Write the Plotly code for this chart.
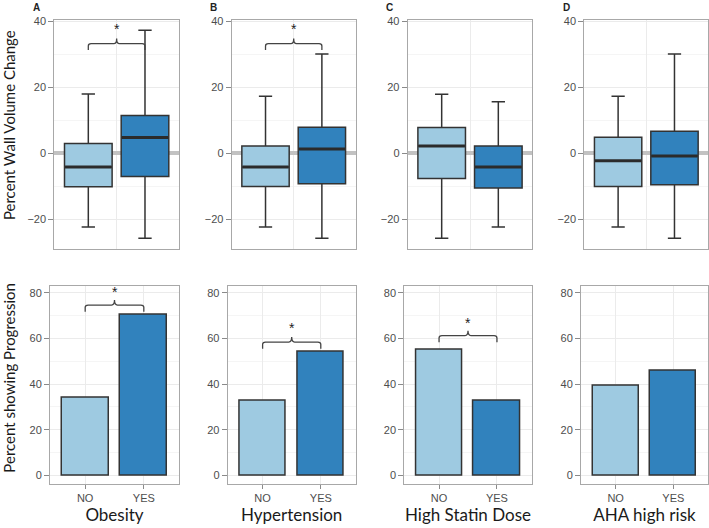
import plotly.graph_objects as go

# ---------------- data ----------------
groups = ["NO", "YES"]
factors = ["Obesity", "Hypertension", "High Statin Dose", "AHA high risk"]
panel_letters = ["A", "B", "C", "D"]

# box statistics (percent wall volume change): [NO, YES] per factor
box_upper = [[18.0, 37.3], [17.3, 30.1], [17.9, 15.6], [17.3, 30.1]]
box_q3 = [[3.0, 11.5], [2.2, 7.9], [7.8, 2.2], [4.9, 6.7]]
box_median = [[-4.1, 4.8], [-4.1, 1.3], [2.2, -4.1], [-2.2, -0.8]]
box_q1 = [[-10.1, -7.0], [-10.0, -9.2], [-7.6, -10.5], [-10.0, -9.5]]
box_lower = [[-22.3, -25.7], [-22.3, -25.7], [-25.7, -22.3], [-22.3, -25.7]]

# percent showing progression: [NO, YES] per factor
progression = [[34.0, 70.3], [32.7, 53.9], [54.8, 32.7], [39.4, 45.6]]

# significance brackets: (bar level, leg end, tip) or None
top_brackets = [(33.2, 31.3, 34.8), (33.2, 31.3, 34.8), None, None]
top_star_y = [37.5, 37.5, None, None]
bottom_brackets = [(74.6, 71.7, 76.8), (58.4, 55.5, 60.6), (61.2, 58.3, 63.3), None]
bottom_star_y = [80.4, 64.6, 66.7, None]

y_ticks_top = [-20, 0, 20, 40]
y_ticks_bottom = [0, 20, 40, 60, 80]

# ---------------- style ----------------
W, H = 709, 528
colors = ["#9ECAE1", "#3182BD"]
outline = "#333333"
tick_font = dict(family="Liberation Sans, Arial, sans-serif", size=11, color="#4D4D4D")
title_font = dict(family="Lato, Open Sans, sans-serif", size=17, color="#1a1a1a")
ytitle_font = dict(family="Lato, Open Sans, sans-serif", size=15, color="#1a1a1a")
grid_major = "#EBEBEB"
grid_minor = "#F5F5F5"
border = "#A8A8A8"

top_px = [(54.3, 179.0), (231.7, 355.7), (407.7, 532.3), (584.3, 708.3)]
bot_px = [(50.0, 179.0), (227.7, 355.7), (404.3, 531.7), (581.0, 708.0)]
top_ypx = (15.7, 246.7)
bot_ypx = (284.0, 483.3)

def xd(a, b):
    return [a / W, b / W]

def yd(top, bottom):
    return [1 - bottom / H, 1 - top / H]

fig = go.Figure()
layout = dict(width=W, height=H, margin=dict(l=0, r=0, t=0, b=0),
              paper_bgcolor="white", plot_bgcolor="white", showlegend=False,
              hovermode=False)
shapes = []
annotations = []

box_w = 0.84
bar_w = 0.8

def bracket(level, leg, tip, xr, yr):
    x1, x2, xm = 1.0, 2.0, 1.5
    dx = 0.05
    bend = level - (level - leg) * 0.35
    path = (f"M {x1},{leg} L {x1},{bend} "
            f"Q {x1},{level} {x1 + dx},{level} L {xm - dx},{level} "
            f"Q {xm},{level} {xm},{tip} Q {xm},{level} {xm + dx},{level} "
            f"L {x2 - dx},{level} Q {x2},{level} {x2},{bend} L {x2},{leg}")
    shapes.append(dict(type="path", path=path, xref=xr, yref=yr,
                       line=dict(color="#444", width=1.3)))

star_font = dict(family="Liberation Sans", size=14, color="#222")

for i in range(4):
    # ---- top panel (boxplots) ----
    n = i + 1
    xa, ya = f"x{n}", f"y{n}"
    for g in range(2):
        xpos = g + 1
        fig.add_trace(go.Box(
            x=[xpos], q1=[box_q1[i][g]], median=[box_median[i][g]], q3=[box_q3[i][g]],
            lowerfence=[box_lower[i][g]], upperfence=[box_upper[i][g]],
            width=box_w, whiskerwidth=0.28, fillcolor=colors[g], boxpoints=False,
            line=dict(color=outline, width=1.5), xaxis=xa, yaxis=ya))
        fig.add_trace(go.Scatter(
            x=[xpos - box_w / 2 + 0.01, xpos + box_w / 2 - 0.01],
            y=[box_median[i][g]] * 2, mode="lines",
            line=dict(color="#2B2B2B", width=3), xaxis=xa, yaxis=ya))
    layout[f"xaxis{n}" if n > 1 else "xaxis"] = dict(
        domain=xd(*top_px[i]), range=[0.4, 2.6], anchor=ya,
        tickvals=[1.5], showticklabels=False, ticks="",
        showgrid=True, gridcolor=grid_major, gridwidth=1, zeroline=False,
        showline=True, mirror=True, linecolor=border, linewidth=1)
    layout[f"yaxis{n}" if n > 1 else "yaxis"] = dict(
        domain=yd(*top_ypx), range=[-28.9, 40.5], anchor=xa,
        tickvals=y_ticks_top, ticks="outside", ticklen=5, tickcolor="#8a8a8a",
        tickfont=tick_font, showgrid=True, gridcolor=grid_major,
        minor=dict(dtick=10, tick0=0, showgrid=True, gridcolor=grid_minor, ticks=""),
        zeroline=True, zerolinecolor="#C2C2C2", zerolinewidth=4,
        showline=True, mirror=True, linecolor=border, linewidth=1)

    # ---- bottom panel (bars) ----
    m = i + 5
    xb, yb = f"x{m}", f"y{m}"
    fig.add_trace(go.Bar(
        x=[1, 2], y=progression[i], width=bar_w, marker=dict(color=colors,
        line=dict(color=outline, width=1.5)), xaxis=xb, yaxis=yb))
    layout[f"xaxis{m}"] = dict(
        domain=xd(*bot_px[i]), range=[0.4, 2.6], anchor=yb,
        tickvals=[1, 2], ticktext=groups, ticks="outside", ticklen=4, tickcolor="#8a8a8a",
        tickfont=tick_font, showgrid=True, gridcolor=grid_major, zeroline=False,
        showline=True, mirror=True, linecolor=border, linewidth=1,
        title=dict(text=factors[i], font=title_font, standoff=6))
    layout[f"yaxis{m}"] = dict(
        domain=yd(*bot_ypx), range=[-3.6, 83], anchor=xb,
        tickvals=y_ticks_bottom, ticks="outside", ticklen=5, tickcolor="#8a8a8a",
        tickfont=tick_font, showgrid=True, gridcolor=grid_major,
        minor=dict(dtick=10, tick0=0, showgrid=True, gridcolor=grid_minor, ticks=""),
        zeroline=False, showline=True, mirror=True, linecolor=border, linewidth=1)

    # ---- panel letters ----
    annotations.append(dict(text=f"<b>{panel_letters[i]}</b>", xref="paper", yref="paper",
                            x=(top_px[i][0] - 18) / W, y=1 - 11 / H, showarrow=False,
                            xanchor="center", yanchor="bottom",
                            font=dict(family="Liberation Sans, Arial", size=10, color="#222")))

    # ---- brackets ----
    if top_brackets[i] is not None:
        bracket(*top_brackets[i], xa, ya)
        annotations.append(dict(text="*", x=1.5, y=top_star_y[i], xref=xa, yref=ya,
                                showarrow=False, font=star_font))
    if bottom_brackets[i] is not None:
        bracket(*bottom_brackets[i], xb, yb)
        annotations.append(dict(text="*", x=1.5, y=bottom_star_y[i], xref=xb, yref=yb,
                                showarrow=False, font=star_font))

# ---- y-axis titles ----
annotations.append(dict(text="Percent Wall Volume Change", xref="paper", yref="paper",
                        x=9 / W, y=1 - 122 / H, textangle=-90, showarrow=False,
                        xanchor="center", yanchor="middle", font=ytitle_font))
annotations.append(dict(text="Percent showing Progression", xref="paper", yref="paper",
                        x=9 / W, y=1 - 376.5 / H, textangle=-90, showarrow=False,
                        xanchor="center", yanchor="middle", font=ytitle_font))

layout["shapes"] = shapes
layout["annotations"] = annotations
layout["bargap"] = 0
fig.update_layout(**layout)
fig.write_html("out.html", config={"displayModeBar": False},
               post_script="document.body.style.margin='0';")
